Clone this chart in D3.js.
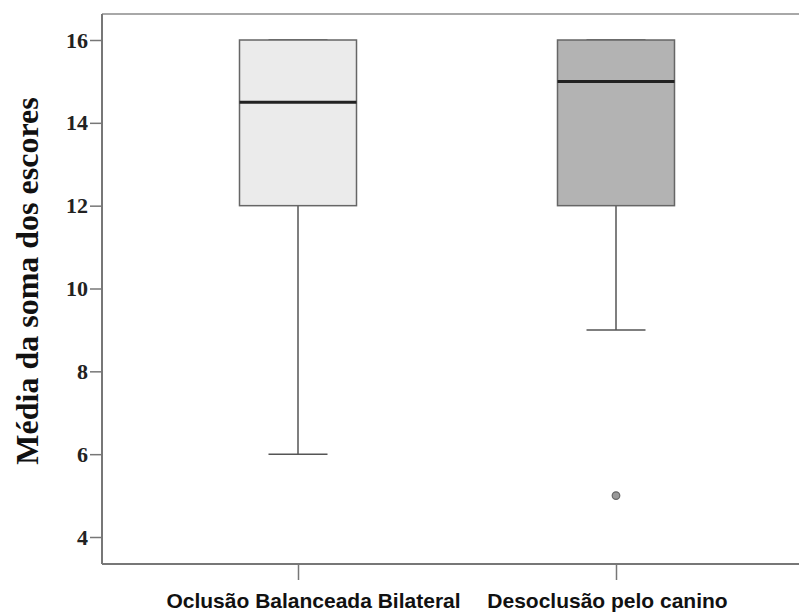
<!DOCTYPE html>
<html>
<head>
<meta charset="utf-8">
<script src="https://cdn.jsdelivr.net/npm/d3@7"></script>
<style>
  html, body { margin: 0; padding: 0; background: #fff; }
  svg { display: block; }
</style>
</head>
<body>
<svg id="chart" width="799" height="614"></svg>
<script>
// Groups and their five-number summaries
const groups = ["Oclusão Balanceada Bilateral", "Desoclusão pelo canino"];
const whiskerLow = [6, 9];
const q1 = [12, 12];
const median = [14.5, 15];
const q3 = [16, 16];
const whiskerHigh = [16, 16];
const outliers = [[], [5]];
const boxFills = ["#ebebeb", "#b3b3b3"];
const yTicks = [4, 6, 8, 10, 12, 14, 16];
const yTitle = "Média da soma dos escores";

const svg = d3.select("#chart");
const plot = { left: 102, top: 14, right: 799, bottom: 564 };

const y = d3.scaleLinear().domain([4, 16]).range([537, 40]);
const x = d3.scalePoint().domain(groups).range([298, 616]);

// top frame line
svg.append("line").attr("x1", plot.left).attr("x2", plot.right)
  .attr("y1", plot.top).attr("y2", plot.top)
  .attr("stroke", "#a8a8a8").attr("stroke-width", 2);

// y axis
const yAxis = svg.append("g")
  .attr("transform", `translate(${plot.left},0)`)
  .call(d3.axisLeft(y).tickValues(yTicks).tickSize(12).tickPadding(2).tickFormat(d3.format("d")));
yAxis.select(".domain").attr("d", `M0,${plot.top}V${plot.bottom}`)
  .attr("stroke", "#777").attr("stroke-width", 2);
yAxis.selectAll(".tick line").attr("stroke", "#777").attr("stroke-width", 1.5);
yAxis.selectAll(".tick text")
  .attr("fill", "#222")
  .style("font-family", "'Liberation Serif', 'Times New Roman', serif")
  .style("font-weight", "bold")
  .style("font-size", "22px");

// x axis
const xAxis = svg.append("g")
  .attr("transform", `translate(0,${plot.bottom})`)
  .call(d3.axisBottom(x).tickSize(16).tickPadding(13));
xAxis.select(".domain").attr("d", `M${plot.left},0H${plot.right}`)
  .attr("stroke", "#777").attr("stroke-width", 2);
xAxis.selectAll(".tick line").attr("stroke", "#777").attr("stroke-width", 1.5);
xAxis.selectAll(".tick text")
  .attr("fill", "#111")
  .attr("dx", (d, i) => [15, -9][i])
  .style("font-family", "'Liberation Sans', Arial, sans-serif")
  .style("font-weight", "bold")
  .style("font-size", "21px");

// y title
svg.append("text")
  .attr("transform", `translate(38,281) rotate(-90)`)
  .attr("text-anchor", "middle")
  .attr("fill", "#111")
  .style("font-family", "'Liberation Serif', 'Times New Roman', serif")
  .style("font-weight", "bold")
  .style("font-size", "32px")
  .text(yTitle);

// boxes
const boxW = 117, capW = 59;
const g = svg.append("g");
groups.forEach((grp, i) => {
  const cx = x(grp);
  // lower whisker
  g.append("line").attr("x1", cx).attr("x2", cx)
    .attr("y1", y(q1[i])).attr("y2", y(whiskerLow[i]))
    .attr("stroke", "#555").attr("stroke-width", 1.5);
  g.append("line").attr("x1", cx - capW / 2).attr("x2", cx + capW / 2)
    .attr("y1", y(whiskerLow[i])).attr("y2", y(whiskerLow[i]))
    .attr("stroke", "#555").attr("stroke-width", 1.5);
  // upper whisker cap (coincides with box top)
  g.append("line").attr("x1", cx - capW / 2).attr("x2", cx + capW / 2)
    .attr("y1", y(whiskerHigh[i])).attr("y2", y(whiskerHigh[i]))
    .attr("stroke", "#555").attr("stroke-width", 1.5);
  // box
  g.append("rect")
    .attr("x", cx - boxW / 2).attr("width", boxW)
    .attr("y", y(q3[i])).attr("height", y(q1[i]) - y(q3[i]))
    .attr("fill", boxFills[i]).attr("stroke", "#666").attr("stroke-width", 1.5);
  // median
  g.append("line").attr("x1", cx - boxW / 2).attr("x2", cx + boxW / 2)
    .attr("y1", y(median[i])).attr("y2", y(median[i]))
    .attr("stroke", "#222").attr("stroke-width", 3);
  // outliers
  outliers[i].forEach(v => {
    g.append("circle").attr("cx", cx).attr("cy", y(v)).attr("r", 3.8)
      .attr("fill", "#999").attr("stroke", "#666").attr("stroke-width", 1.2);
  });
});
</script>
</body>
</html>
